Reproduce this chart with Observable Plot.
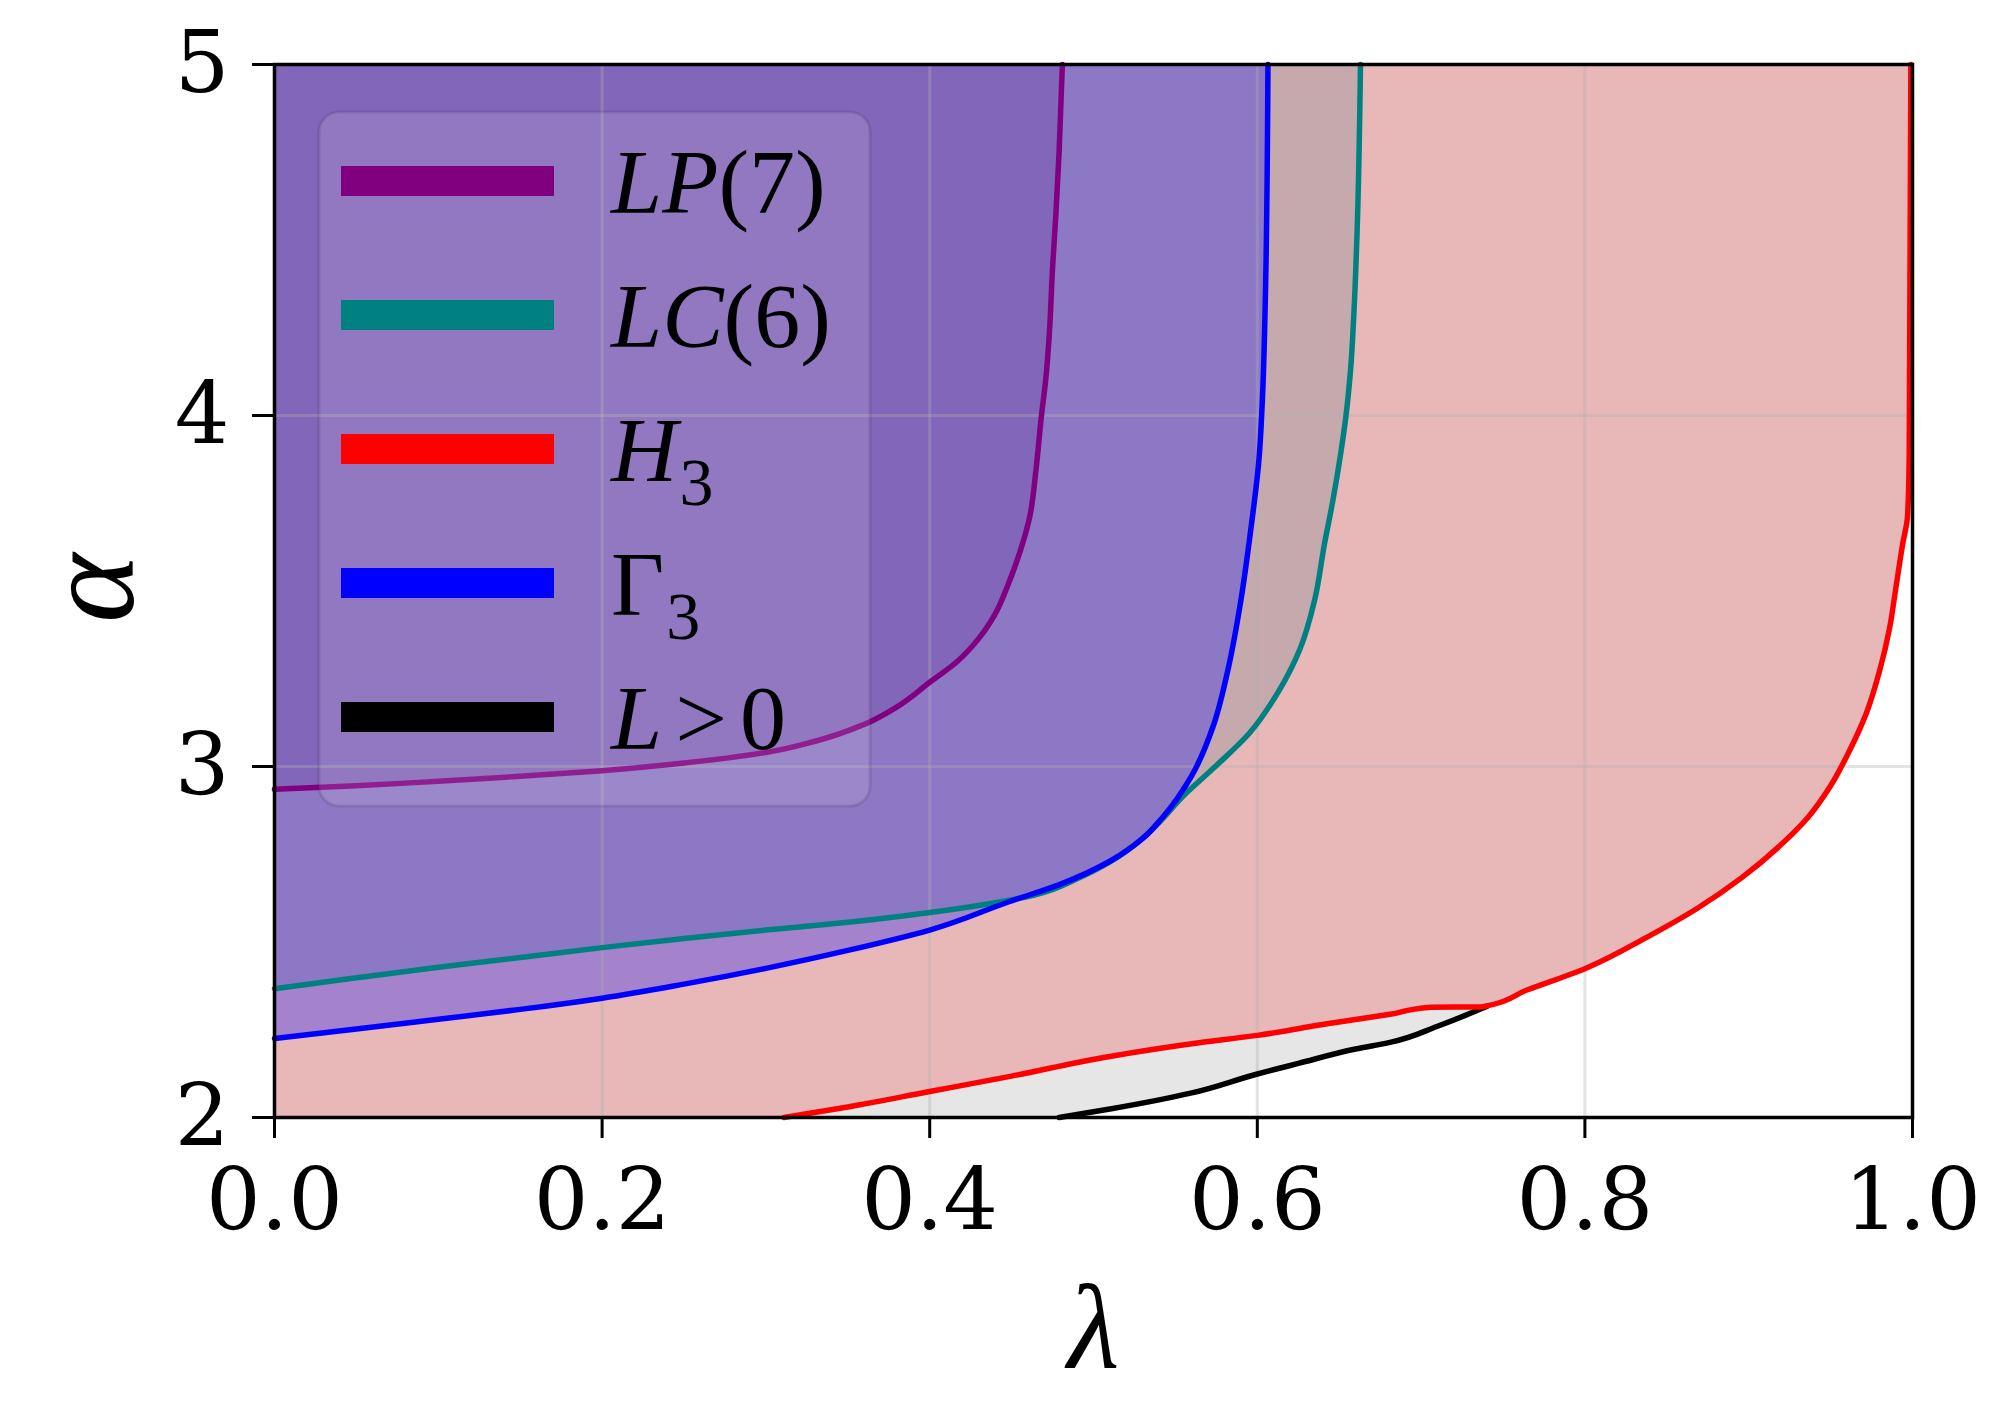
<!DOCTYPE html>
<html>
<head>
<meta charset="utf-8">
<script src="https://cdn.jsdelivr.net/npm/d3@7"></script>
<script src="https://cdn.jsdelivr.net/npm/@observablehq/plot@0.6"></script>
<style>
  html, body { margin: 0; padding: 0; background: #fff; }
  #chart { width: 2016px; height: 1423px; }
</style>
</head>
<body>
<div id="chart"></div>
<script>
// Axis ticks
const xTicks = [0.0, 0.2, 0.4, 0.6, 0.8, 1.0];
const yTicks = [2, 3, 4, 5];
const xLabel = "λ";
const yLabel = "α";

// Bifurcation curves in the (λ, α) plane
const lpLambda = [0.000, 0.050, 0.100, 0.150, 0.200, 0.250, 0.300, 0.330, 0.360, 0.380, 0.400, 0.417, 0.430, 0.440, 0.448, 0.455, 0.461, 0.465, 0.468, 0.471, 0.473, 0.475, 0.477, 0.479, 0.481];
const lpAlpha  = [2.935, 2.945, 2.958, 2.972, 2.988, 3.010, 3.040, 3.072, 3.120, 3.170, 3.240, 3.300, 3.365, 3.435, 3.520, 3.610, 3.710, 3.850, 3.990, 4.110, 4.230, 4.420, 4.570, 4.750, 5.000];

const lcLambda = [0.000, 0.050, 0.100, 0.150, 0.200, 0.250, 0.300, 0.350, 0.400, 0.440, 0.464, 0.490, 0.510, 0.530, 0.542, 0.554, 0.573, 0.595, 0.613, 0.626, 0.635, 0.641, 0.646, 0.651, 0.654, 0.657, 0.659, 0.661, 0.663];
const lcAlpha  = [2.367, 2.398, 2.428, 2.456, 2.484, 2.510, 2.534, 2.556, 2.584, 2.612, 2.634, 2.680, 2.728, 2.795, 2.850, 2.912, 2.994, 3.094, 3.214, 3.334, 3.474, 3.634, 3.754, 3.894, 3.994, 4.134, 4.294, 4.534, 5.000];

const h3Lambda = [0.311, 0.350, 0.400, 0.450, 0.510, 0.560, 0.600, 0.640, 0.681, 0.706, 0.737, 0.765, 0.800, 0.838, 0.868, 0.896, 0.919, 0.936, 0.950, 0.961, 0.972, 0.980, 0.986, 0.990, 0.994, 0.997, 0.998, 0.999];
const h3Alpha  = [2.000, 2.030, 2.074, 2.118, 2.174, 2.210, 2.234, 2.265, 2.294, 2.314, 2.315, 2.364, 2.424, 2.514, 2.594, 2.684, 2.774, 2.854, 2.945, 3.040, 3.154, 3.274, 3.394, 3.514, 3.634, 3.714, 3.894, 5.000];

const g3Lambda = [0.000, 0.050, 0.100, 0.150, 0.200, 0.250, 0.300, 0.350, 0.400, 0.448, 0.480, 0.510, 0.530, 0.542, 0.560, 0.573, 0.582, 0.590, 0.596, 0.601, 0.603, 0.605, 0.6065];
const g3Alpha  = [2.225, 2.252, 2.280, 2.308, 2.340, 2.380, 2.425, 2.476, 2.534, 2.614, 2.665, 2.730, 2.795, 2.854, 2.974, 3.114, 3.274, 3.474, 3.674, 3.874, 4.034, 4.354, 5.000];

const lposLambda = [0.479, 0.510, 0.560, 0.600, 0.625, 0.660, 0.681, 0.710, 0.740];
const lposAlpha  = [2.000, 2.024, 2.070, 2.124, 2.154, 2.195, 2.214, 2.260, 2.316];

// Legend entries
const seriesNames = ["LP(7)", "LC(6)", "H3", "Γ3", "L>0"];
const lineColors  = ["#800080", "#008080", "#ff0000", "#0000ff", "#000000"];
// label pieces: [text, style] where style is "i" (italic), "" (upright), "sub" (subscript) or "op" (spaced symbol)
const legendLabels = [
  [["L", "i"], ["P", "i"], ["(7)", ""]],
  [["L", "i"], ["C", "i"], ["(6)", ""]],
  [["H", "i"], ["3", "sub"]],
  [["Γ", ""], ["3", "sub"]],
  [["L", "i"], [">", "op"], ["0", "op"]]
];

// Region shading
const fillLpos = "#e6e6e6";
const fillH3 = "#e8b8b8";
const fillLc = "#005a6e", fillLcOpacity = 0.15;
const fillG3 = "#0000ff", fillG3Opacity = 0.29;
const fillLp = "#4b0082", fillLpOpacity = 0.15;

const toPoints = (ls, as) => ls.map((l, i) => ({l, a: as[i]}));
const lp = toPoints(lpLambda, lpAlpha);
const lc = toPoints(lcLambda, lcAlpha);
const h3 = toPoints(h3Lambda, h3Alpha);
const g3 = toPoints(g3Lambda, g3Alpha);
const lpos = toPoints(lposLambda, lposAlpha);

const xMin = xTicks[0], xMax = xTicks[xTicks.length - 1];
const yMin = yTicks[0], yMax = yTicks[yTicks.length - 1];

// region to the left of / above a boundary curve (each curve is monotone in α)
const regionLeft = (pts, fill, fillOpacity = 1) =>
  Plot.areaX(pts, {y: "a", x1: xMin, x2: "l", fill, fillOpacity, curve: "monotone-y"});
const curve = (pts, stroke) =>
  Plot.line(pts, {x: "l", y: "a", stroke, strokeWidth: 5.5, curve: "monotone-y"});

const svg = Plot.plot({
  width: 2016,
  height: 1423,
  marginLeft: 274,
  marginRight: 104,
  marginTop: 64,
  marginBottom: 306,
  x: {domain: [xMin, xMax]},
  y: {domain: [yMin, yMax]},
  style: {fontFamily: "DejaVu Serif", background: "#fff", color: "#000"},
  marks: [
    regionLeft(lpos, fillLpos),
    regionLeft(h3, fillH3),
    regionLeft(lc, fillLc, fillLcOpacity),
    regionLeft(g3, fillG3, fillG3Opacity),
    regionLeft(lp, fillLp, fillLpOpacity),
    Plot.gridX({ticks: xTicks.slice(1, -1), stroke: "#b0b0b0", strokeOpacity: 0.35, strokeWidth: 3}),
    Plot.gridY({ticks: yTicks.slice(1, -1), stroke: "#b0b0b0", strokeOpacity: 0.35, strokeWidth: 3}),
    curve(lpos, lineColors[4]),
    curve(h3, lineColors[2]),
    curve(lc, lineColors[1]),
    curve(g3, lineColors[3]),
    curve(lp, lineColors[0]),
    Plot.frame({stroke: "#000", strokeWidth: 3.5}),
    Plot.axisX({ticks: xTicks, tickFormat: d3.format(".1f"), tickSize: 21, tickPadding: 29,
                strokeWidth: 3, fontSize: 86, label: null}),
    Plot.axisY({ticks: yTicks, tickFormat: d3.format("d"), tickSize: 22, tickPadding: 23,
                strokeWidth: 3, fontSize: 86, label: null}),
    Plot.text([xLabel], {text: d => d, frameAnchor: "bottom", dy: 250, fontSize: 120,
                         fontStyle: "italic", fontFamily: "Liberation Serif"}),
    Plot.text([yLabel], {text: d => d, frameAnchor: "left", dx: -184, dy: 32, rotate: -90, fontSize: 132,
                         fontStyle: "italic", fontFamily: "Liberation Serif"})
  ]
});

// Legend box drawn inside the plotting area, upper left
const legend = d3.select(svg).append("g")
  .attr("font-family", "Liberation Serif")
  .attr("font-size", 92)
  .attr("text-anchor", "start")
  .attr("fill", "#000");

legend.append("rect")
  .attr("x", 319).attr("y", 112)
  .attr("width", 551).attr("height", 694)
  .attr("rx", 20).attr("ry", 20)
  .attr("fill", "#ffffff").attr("fill-opacity", 0.12)
  .attr("stroke", "#2a1a4a").attr("stroke-opacity", 0.14).attr("stroke-width", 3);

seriesNames.forEach((name, i) => {
  const cy = 181 + i * 134;
  legend.append("line")
    .attr("x1", 341).attr("x2", 554)
    .attr("y1", cy).attr("y2", cy)
    .attr("stroke", lineColors[i]).attr("stroke-width", 30);
  const t = legend.append("text")
    .attr("x", 611).attr("y", cy + 32)
    .attr("text-anchor", "start");
  legendLabels[i].forEach(([txt, st]) => {
    const s = t.append("tspan").text(txt);
    if (st === "i") s.attr("font-style", "italic");
    if (st === "sub") s.attr("font-size", 68).attr("dy", 24).attr("dx", 2);
    if (st === "op") s.attr("dx", 13);
  });
});

document.getElementById("chart").appendChild(svg);
</script>
</body>
</html>
